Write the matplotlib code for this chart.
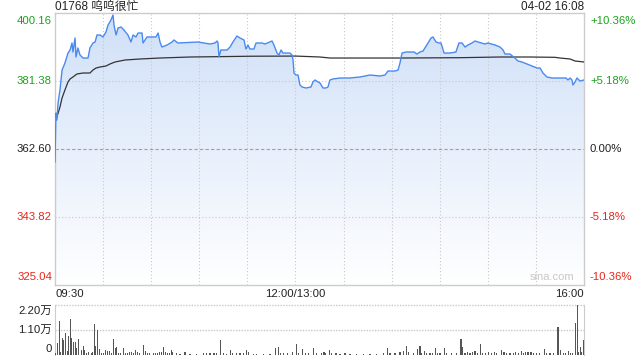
import matplotlib
matplotlib.use("Agg")
import matplotlib.pyplot as plt
import numpy as np

plt.rcParams['font.family'] = ['Liberation Sans', 'Noto Sans CJK SC', 'DejaVu Sans']

# ---- data ----
title = "01768 呜呜很忙"
stamp = "04-02 16:08"
prev_close = 362.60
price_ticks = [400.16, 381.38, 362.60, 343.82, 325.04]
pct_ticks = ["+10.36%", "+5.18%", "0.00%", "-5.18%", "-10.36%"]
x_labels = ["09:30", "12:00/13:00", "16:00"]
vol_ticks = ["2.20万", "1.10万", "0"]

price_t = [0, 0.6, 1.2, 1.9, 3.1, 4.4, 6.2, 8.1, 9.4, 10.6, 11.2, 12.5, 13.1, 14.3, 15.6,
           17.5, 20.6, 21.8, 23.7, 25.0, 26.2, 28.1, 29.9, 31.8, 33.1, 34.9, 36.2, 36.8,
           38.1, 39.3, 41.2, 43.0, 45.5, 47.4, 48.7, 50.5, 51.8, 54.3, 54.9, 57.4, 63.0,
           64.3, 65.5, 66.7, 69.9, 73.0, 74.2, 76.7, 89.2, 96.7, 99.8, 101.1, 101.7, 102.3,
           103.5, 107.3, 109.2, 111.0, 113.5, 115.4, 117.9, 119.1, 120.4, 121.6, 124.1,
           125.4, 129.1, 131.0, 135.4, 136.6, 138.5, 139.7, 141.0, 142.2, 146.6, 147.8,
           148.5, 149.1, 150.3, 151.6, 152.8, 154.1, 156.6, 159.7, 160.9, 162.2, 164.1,
           165.3, 167.2, 169.0, 170.3, 171.5, 173.4, 177.8, 184.0, 190.3, 196.5, 202.7,
           205.9, 207.7, 212.1, 214.0, 215.2, 216.5, 219.0, 224.0, 225.8, 227.7, 229.6,
           232.7, 234.6, 235.8, 237.7, 239.5, 240.8, 242.7, 246.4, 250.1, 252.0, 253.9,
           255.8, 257.6, 260.1, 262.0, 263.9, 268.2, 270.1, 274.5, 277.6, 279.5, 280.7,
           283.8, 286.9, 288.8, 291.3, 294.4, 297.6, 300.7, 302.6, 304.4, 306.9, 310.0,
           315.0, 318.8, 320.0, 321.3, 322.5, 323.1, 324.4, 325.6, 327.5, 330.0]
price_v = [359.09, 372.62, 370.69, 375.38, 378.98, 384.50, 386.43, 389.19, 390.02, 391.96,
           389.47, 393.34, 388.09, 390.58, 388.64, 387.81, 387.81, 390.58, 391.96, 392.23,
           394.17, 394.17, 393.62, 395.00, 396.93, 398.31, 399.69, 396.93, 394.17, 396.10,
           396.38, 395.55, 394.17, 392.23, 394.17, 393.62, 394.72, 394.72, 391.96, 393.62,
           393.62, 394.72, 392.23, 390.85, 391.40, 392.23, 392.79, 391.96, 392.23, 391.68,
           391.96, 392.51, 391.96, 388.09, 390.02, 390.02, 390.85, 392.23, 393.89, 393.34,
           392.79, 390.30, 391.40, 390.30, 390.30, 391.96, 391.96, 391.68, 392.51, 391.40,
           389.19, 388.64, 390.02, 389.19, 389.19, 388.64, 387.26, 383.67, 383.12, 383.12,
           380.36, 379.81, 379.53, 379.81, 381.19, 381.74, 381.19, 380.91, 379.53, 379.53,
           379.81, 381.74, 382.02, 382.29, 382.29, 382.57, 383.12, 382.84, 383.12, 384.22,
           384.22, 384.50, 386.43, 389.19, 389.47, 389.47, 388.92, 389.47, 389.75, 391.96,
           393.34, 393.62, 392.23, 391.96, 391.96, 389.19, 389.19, 389.47, 391.96, 391.96,
           390.85, 391.40, 391.96, 392.51, 392.23, 391.68, 391.96, 391.40, 390.85, 390.02,
           388.92, 388.92, 387.81, 386.99, 386.71, 386.16, 385.60, 385.05, 385.05, 383.67,
           382.57, 382.29, 382.29, 382.29, 381.74, 382.29, 381.74, 380.36, 381.19, 382.29,
           381.46, 381.74]

avg_t = [1.2, 3.1, 4.4, 6.2, 8.1, 9.4, 11.2, 13.7, 17.5, 21.8, 23.7, 25.6, 28.1, 31.8,
         34.3, 37.4, 43.7, 53.0, 65.5, 84.2, 121.6, 150.0, 165.3, 171.5, 215.2, 252.6,
         277.6, 296.3, 311.9, 315.0, 321.3, 324.4, 330.0]
avg_v = [371.52, 374.28, 376.77, 378.98, 381.19, 382.02, 382.57, 383.40, 383.67, 383.67,
         384.50, 385.05, 385.33, 385.60, 386.16, 386.71, 387.26, 387.54, 387.81, 388.09,
         388.30, 388.35, 388.09, 387.81, 387.81, 387.90, 388.09, 388.09, 388.00, 387.81,
         387.54, 386.99, 386.71]

vol_t = [0, 1.5, 2.7, 3.5, 4.6, 5.2, 6.4, 7.7, 8.3, 9.6, 10.2, 11.4, 12.7, 13.3, 14.6,
         16.4, 17.7, 18.3, 19.8, 21.0, 22.7, 23.3, 24.5, 25.2, 26.4, 27.6, 29.1, 30.2,
         31.4, 32.6, 33.9, 35.1, 36.4, 37.6, 38.3, 39.5, 40.7, 42.6, 43.9, 45.1, 46.4,
         47.6, 48.9, 50.1, 51.3, 52.6, 55.1, 56.3, 57.6, 58.8, 61.3, 62.6, 63.8, 65.1,
         66.3, 67.6, 68.8, 70.1, 71.3, 72.6, 73.2, 75.9, 78.0, 81.1, 84.2, 88.4, 92.5,
         94.6, 96.7, 99.2, 100.9, 103.4, 105.0, 107.1, 109.4, 110.8, 113.3, 115.4, 117.5,
         119.6, 120.8, 123.7, 125.8, 130.0, 134.1, 137.5, 139.3, 140.8, 142.4, 144.9,
         148.0, 150.8, 152.0, 154.3, 156.0, 158.0, 161.1, 163.2, 166.4, 167.8, 169.0,
         171.1, 172.6, 175.3, 177.8, 180.9, 184.0, 188.2, 192.3, 196.5, 200.7, 204.8,
         207.3, 209.0, 212.1, 215.2, 217.3, 219.0, 220.4, 223.5, 226.0, 227.7, 228.9,
         230.4, 231.9, 233.9, 235.6, 237.2, 238.7, 240.2, 242.9, 244.3, 247.5, 250.6,
         253.3, 254.1, 255.8, 257.2, 258.9, 260.5, 262.0, 263.4, 265.3, 266.8, 268.5,
         270.3, 272.4, 273.9, 275.5, 278.4, 280.1, 281.8, 283.8, 285.9, 287.4, 289.0,
         290.9, 292.1, 293.6, 295.1, 296.9, 298.4, 300.5, 302.5, 305.2, 306.7, 308.8,
         310.8, 313.8, 315.2, 317.1, 318.6, 320.2, 321.7, 322.7, 324.9, 325.9, 326.8,
         327.9, 328.7, 329.8, 330.0]
vol_v = [0.07, 0.54, 1.50, 0.15, 0.73, 0.66, 0.98, 0.19, 0.84, 1.58, 0.76, 0.59, 0.59,
         0.29, 0.70, 0.22, 0.41, 0.22, 0.07, 0.15, 0.10, 0.15, 1.35, 0.41, 1.10, 0.26,
         0.10, 0.07, 0.22, 0.19, 0.19, 0.10, 0.70, 0.29, 0.34, 0.10, 0.07, 0.32, 0.10,
         0.07, 0.15, 0.12, 0.07, 0.22, 0.15, 0.07, 0.44, 0.19, 0.10, 0.07, 0.07, 0.10,
         0.07, 0.15, 0.12, 0.37, 0.15, 0.07, 0.10, 0.22, 0.15, 0.07, 0.06, 0.12, 0.06,
         0.06, 0.07, 0.10, 0.07, 0.07, 0.07, 0.66, 0.07, 0.06, 0.22, 0.07, 0.10, 0.07,
         0.07, 0.22, 0.12, 0.06, 0.06, 0.06, 0.06, 0.29, 0.34, 0.10, 0.07, 0.07, 0.15,
         0.48, 0.10, 0.26, 0.10, 0.07, 0.29, 0.07, 0.07, 0.15, 0.10, 0.22, 0.07, 0.07,
         0.06, 0.07, 0.06, 0.06, 0.06, 0.06, 0.06, 0.10, 0.32, 0.07, 0.07, 0.15, 0.19,
         0.40, 0.12, 0.07, 0.26, 0.41, 0.10, 0.19, 0.07, 0.10, 0.10, 0.31, 0.10, 0.07,
         0.32, 0.07, 0.07, 0.07, 0.70, 0.37, 0.07, 0.15, 0.10, 0.15, 0.19, 0.10, 0.48,
         0.10, 0.07, 0.12, 0.07, 0.12, 0.07, 0.22, 0.12, 0.07, 0.07, 0.07, 0.12, 0.07,
         0.19, 0.10, 0.15, 0.12, 0.15, 0.07, 0.07, 0.07, 0.26, 0.07, 0.07, 0.07, 1.25,
         0.22, 0.10, 0.10, 0.18, 0.07, 0.07, 1.42, 2.20, 0.12, 0.34, 0.15, 0.15, 0.66]

# ---- figure ----
fig = plt.figure(figsize=(6.4, 3.6), dpi=100)
W, H = 640.0, 360.0
L, R = 55, 584
ax = fig.add_axes([L / W, 1 - 285.3 / H, (R - L) / W, (285.3 - 13.3) / H])
vax = fig.add_axes([L / W, 1 - 355 / H, (R - L) / W, 50 / H])

ymin, ymax = price_ticks[-1], price_ticks[0]
ax.set_xlim(0, 330)
ax.set_ylim(ymin, ymax)

# gradient fill under the price line
poly = ax.fill_between(price_t, price_v, ymin, color='none', lw=0)
top = np.array([208, 224, 248]) / 255.0
bot = np.array([255, 255, 255]) / 255.0
g = np.linspace(0, 1, 256)[:, None]
grad = (top[None, :] * (1 - g) + bot[None, :] * g)[:, None, :]
im = ax.imshow(grad, extent=[0, 330, ymin, ymax], aspect='auto', origin='upper', zorder=1)
im.set_clip_path(poly.get_paths()[0], transform=ax.transData)

# grid
for m in range(30, 330, 30):
    ax.axvline(m, color='#c8c8c8', lw=0.8, ls=(0, (1, 2)), zorder=2)
for v in [price_ticks[1], price_ticks[3]]:
    ax.axhline(v, color='#c8c8c8', lw=0.8, ls=(0, (1, 2)), zorder=2)
ax.axhline(prev_close, color='#a0a0a0', lw=0.8, ls=(0, (3, 2)), zorder=2)

ax.plot(price_t, price_v, color='#4a8af0', lw=1.0, zorder=4)
ax.plot(avg_t, avg_v, color='#333333', lw=0.9, zorder=3)

ax.set_xticks([])
ax.set_yticks([])
for s in ax.spines.values():
    s.set_color('#cccccc')
    s.set_linewidth(1.0)

fs = 8.2
cols = ['#1aa31a', '#1aa31a', '#222222', '#e8261a', '#e8261a']
for i, (v, lab, c) in enumerate(zip(price_ticks, pct_ticks, cols)):
    va = 'top' if i == 0 else ('bottom' if i == 4 else 'center')
    off = 0.3 if i == 0 else (-0.2 if i == 4 else 0)
    ax.annotate(f"{v:.2f}", xy=(0, v), xytext=(-3, -3 if i == 0 else (3 if i == 4 else 0)),
                textcoords='offset pixels', ha='right', va=va, fontsize=fs, color=c)
    ax.annotate(lab, xy=(330, v), xytext=(6, -3 if i == 0 else (3 if i == 4 else 0)),
                textcoords='offset pixels', ha='left', va=va, fontsize=fs, color=c)

# x labels
ax.annotate(x_labels[0], xy=(0, ymin), xytext=(0, -4), textcoords='offset pixels',
            ha='left', va='top', fontsize=fs, color='#222222')
ax.annotate(x_labels[1], xy=(150, ymin), xytext=(0, -4), textcoords='offset pixels',
            ha='center', va='top', fontsize=fs, color='#222222')
ax.annotate(x_labels[2], xy=(330, ymin), xytext=(0, -4), textcoords='offset pixels',
            ha='right', va='top', fontsize=fs, color='#222222')

# watermark
ax.annotate("sina.com", xy=(330, ymin), xytext=(-10, 3), textcoords='offset pixels',
            ha='right', va='bottom', fontsize=8, color='#c8c8c8')

# title / stamp
fig.text(L / W, 1 - 7 / H, title, ha='left', va='center', fontsize=8.5, color='#222222')
fig.text(R / W, 1 - 7 / H, stamp, ha='right', va='center', fontsize=8.5, color='#222222')

# volume panel
vax.set_xlim(0, 330)
vax.set_ylim(0, 2.2)
vax.bar(vol_t, vol_v, width=0.7, color='#555555', zorder=3)
vax.axhline(2.2, color='#c8c8c8', lw=1.0, ls=(0, (1, 1)), zorder=1, clip_on=False)
vax.axhline(1.1, color='#c8c8c8', lw=1.0, ls=(0, (1, 1)), zorder=1)
vax.set_xticks([])
vax.set_yticks([])
vax.spines['top'].set_visible(False)
vax.spines['bottom'].set_visible(False)
vax.spines['left'].set_color('#cccccc')
vax.spines['right'].set_color('#cccccc')
vol_pos = [2.2, 1.1, 0.0]
for i, (v, lab) in enumerate(zip(vol_pos, vol_ticks)):
    va = 'top' if i == 0 else ('bottom' if i == 2 else 'center')
    vax.annotate(lab, xy=(0, v), xytext=(-3, -1 if i == 0 else (1 if i == 2 else 0)),
                 textcoords='offset pixels', ha='right', va=va, fontsize=fs, color='#222222')

fig.savefig("out.png", dpi=100)
